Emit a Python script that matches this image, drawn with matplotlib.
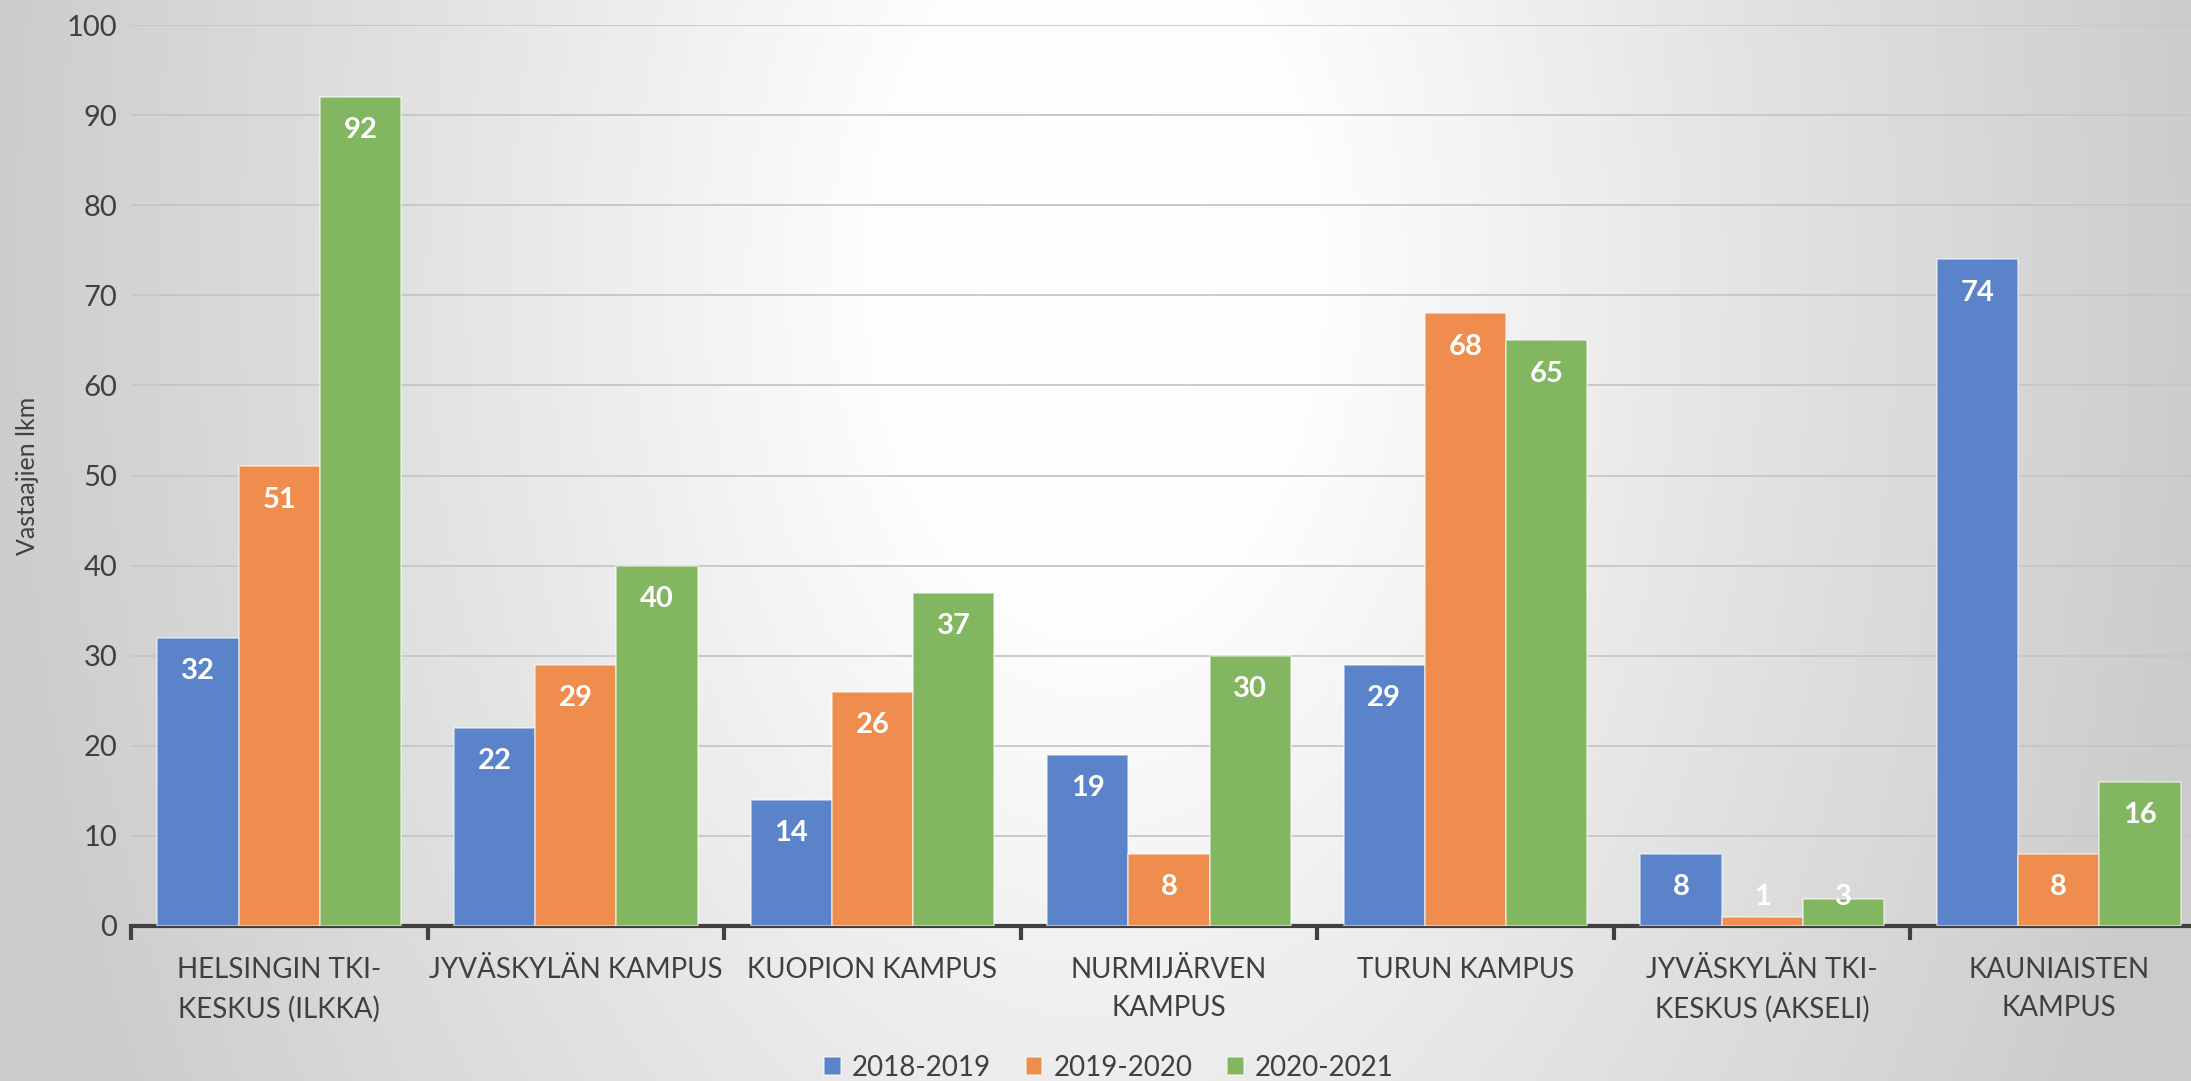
import numpy as np
import matplotlib.pyplot as plt
from matplotlib.colors import LinearSegmentedColormap

# Data
kampukset = ['HELSINGIN TKI-\nKESKUS (ILKKA)', 'JYVÄSKYLÄN KAMPUS', 'KUOPION KAMPUS',
             'NURMIJÄRVEN\nKAMPUS', 'TURUN KAMPUS', 'JYVÄSKYLÄN TKI-\nKESKUS (AKSELI)',
             'KAUNIAISTEN\nKAMPUS']
vuodet = ['2018-2019', '2019-2020', '2020-2021']
v2018 = [32, 22, 14, 19, 29, 8, 74]
v2019 = [51, 29, 26, 8, 68, 1, 8]
v2020 = [92, 40, 37, 30, 65, 3, 16]
y_ticks = [0, 10, 20, 30, 40, 50, 60, 70, 80, 90, 100]

colors = ['#5A83C9', '#EE8D4D', '#82B661']
text_color = '#404040'

plt.rcParams['font.family'] = ['Lato', 'DejaVu Sans']

fig = plt.figure(figsize=(21.91, 10.81), dpi=100)

# taustan liukuväri (vaalea keskellä, harmaa reunoilla)
bg = fig.add_axes([0, 0, 1, 1], zorder=-10)
xx, yy = np.meshgrid(np.linspace(0, 1, 440), np.linspace(1, 0, 220))
r = np.sqrt(((xx - 0.5) / 0.52) ** 2 + ((yy - 0.75) / 1.7) ** 2)
cmap = LinearSegmentedColormap.from_list(
    'bg', [(0, '#ffffff'), (0.2, '#fdfdfd'), (0.6, '#e2e2e2'), (1.0, '#cbcbcb')])
bg.imshow(np.clip(r, 0, 1), cmap=cmap, vmin=0, vmax=1, aspect='auto',
          extent=[0, 1, 0, 1], origin='upper', interpolation='bilinear')
bg.set_axis_off()

ax = fig.add_axes([131 / 2191, 1 - 926 / 1081, (2207 - 131) / 2191, (926 - 25) / 1081])
ax.patch.set_alpha(0)

x = np.arange(len(kampukset))
w = 0.274
sarjat = [v2018, v2019, v2020]
for i, (vals, c, lab) in enumerate(zip(sarjat, colors, vuodet)):
    pos = x + (i - 1) * w
    ax.bar(pos, vals, width=w, color=c, edgecolor=(1, 1, 1, 0.55), linewidth=1.2,
           label=lab, zorder=3)
    for px, v in zip(pos, vals):
        ax.text(px, max(v - 3.7, 3.2), str(v), ha='center', va='center', color='white',
                fontsize=21, fontweight='bold', zorder=4)

ax.set_xlim(-0.5, len(kampukset) - 0.5)
ax.set_ylim(0, 100)
ax.set_yticks(y_ticks)
ax.yaxis.grid(True, color='#c6c6c6', linewidth=1.3, zorder=0)
ax.set_axisbelow(True)
ax.tick_params(axis='y', length=0, labelsize=21, labelcolor=text_color, pad=10)

ax.set_xticks(x)
ax.set_xticklabels(kampukset, fontsize=20, color=text_color, linespacing=1.6)
ax.set_xticks(np.arange(len(kampukset) + 1) - 0.5, minor=True)
ax.tick_params(axis='x', which='major', length=0, pad=22)
ax.tick_params(axis='x', which='minor', length=10, width=3, color=text_color)

for s in ['top', 'right', 'left']:
    ax.spines[s].set_visible(False)
ax.spines['bottom'].set_color(text_color)
ax.spines['bottom'].set_linewidth(3)

ax.set_ylabel('Vastaajien lkm', fontsize=18, color=text_color, labelpad=20)

fig.legend(loc='center', bbox_to_anchor=(1109 / 2191, 1 - 1068 / 1081), ncol=3, frameon=False,
           fontsize=20, labelcolor=text_color, handlelength=0.6, handleheight=0.6,
           columnspacing=1.25, handletextpad=0.4)

fig.savefig('out.png', dpi=100)
